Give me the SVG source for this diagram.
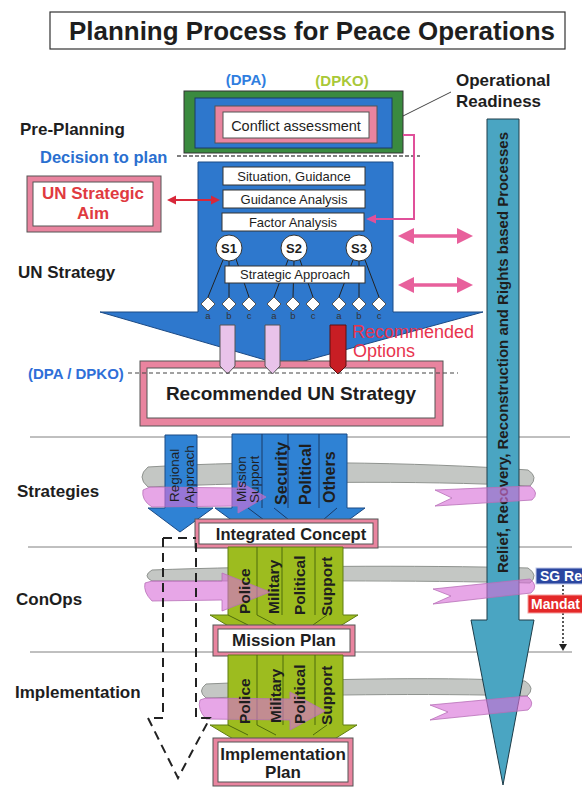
<svg xmlns="http://www.w3.org/2000/svg" width="582" height="787" viewBox="0 0 582 787">
<defs>
<style>
text{font-family:"Liberation Sans",Arial,Helvetica,sans-serif;fill:#1e1e1e}
.sec{font-size:17px;font-weight:bold}
.pinkO{fill:#e9849f;stroke:#555;stroke-width:1}
.whiteI{fill:#fff;stroke:#555;stroke-width:1}
.wbox{fill:#fff;stroke:#333;stroke-width:1}
.wt{font-size:13px;text-anchor:middle}
.gray{fill:#c4c7c4;stroke:#8f938f;stroke-width:1}
.pk{fill:#d870d8;fill-opacity:0.62;stroke:#b870b8;stroke-width:0.8}
.blueA{fill:#2f82d4;stroke:#1b4a85;stroke-width:1}
.greenA{fill:#9dbc1f;stroke:#5f7d12;stroke-width:1}
.div{stroke:#1b3a66;stroke-width:1;fill:none}
.gdiv{stroke:#4d6a0c;stroke-width:1;fill:none}
.sline{stroke:#808080;stroke-width:1}
.dash{stroke:#222;stroke-width:2;stroke-dasharray:9 6;fill:none}
.dia{fill:#fff;stroke:#555;stroke-width:1}
.abc{font-size:9.5px;text-anchor:middle;fill:#333}
.tie{stroke:#222;stroke-width:1}
.col{font-size:15.5px;font-weight:bold}
.colb{font-size:16px;font-weight:bold}
.cols{font-size:13.5px}
.boxt{font-size:17px;font-weight:bold;text-anchor:middle}
</style>
</defs>

<!-- section separator lines -->
<g id="separators">
<line class="sline" x1="30" y1="437" x2="570" y2="437"/>
<line class="sline" x1="28" y1="547" x2="572" y2="547"/>
<line class="sline" x1="30" y1="652" x2="572" y2="652"/>
</g>

<!-- title -->
<g id="title">
<rect x="50" y="12" width="515" height="37" fill="#fff" stroke="#333" stroke-width="1.2"/>
<text x="312" y="40" font-size="26" font-weight="bold" text-anchor="middle" textLength="486" lengthAdjust="spacingAndGlyphs">Planning Process for Peace Operations</text>
</g>

<!-- labels top -->
<g id="dept-labels">
<text x="246" y="85" font-size="15" font-weight="bold" text-anchor="middle" style="fill:#2f7ee0">(DPA)</text>
<text x="342" y="86" font-size="15" font-weight="bold" text-anchor="middle" style="fill:#a9c838">(DPKO)</text>
</g>

<g id="operational-readiness">
<text x="456" y="86" font-size="17" font-weight="bold">Operational</text>
<text x="456" y="107" font-size="17" font-weight="bold">Readiness</text>
<line x1="451" y1="92" x2="399" y2="118" stroke="#444" stroke-width="1"/>
</g>

<!-- conflict assessment -->
<g id="conflict-assessment">
<rect x="184" y="91" width="219" height="62" fill="#3a8a3f" stroke="#333" stroke-width="1"/>
<rect x="195" y="98" width="197" height="50" fill="#2e77cc" stroke="#1b3a66" stroke-width="1"/>
<rect class="pinkO" x="215" y="106" width="162" height="37"/>
<rect class="whiteI" x="223" y="112" width="146" height="26"/>
<text x="296" y="131" font-size="14.5" text-anchor="middle">Conflict assessment</text>
</g>

<g id="pre-planning-labels">
<text class="sec" x="20" y="135">Pre-Planning</text>
<text x="40" y="163" font-size="16.5" font-weight="bold" style="fill:#2a6fd0">Decision to plan</text>
<line x1="177" y1="156" x2="420" y2="156" stroke="#555" stroke-width="1.5" stroke-dasharray="4 2"/>
</g>

<!-- UN strategy blue block -->
<g id="un-strategy-block">
<path d="M198,162 H393 V312 H483 L286,366 L100,312 H198 Z" fill="#2e78cd" stroke="#1b4a85" stroke-width="1"/>
<rect class="wbox" x="223" y="167" width="142" height="18"/>
<text class="wt" x="294" y="181">Situation, Guidance</text>
<rect class="wbox" x="223" y="190" width="142" height="18"/>
<text class="wt" x="294" y="204">Guidance Analysis</text>
<rect class="wbox" x="222" y="213" width="142" height="18"/>
<text class="wt" x="293" y="227">Factor Analysis</text>
<g id="strategy-ties">
<line class="tie" x1="223" y1="260" x2="208" y2="297"/>
<line class="tie" x1="229" y1="261" x2="229" y2="297"/>
<line class="tie" x1="236" y1="259" x2="249" y2="297"/>
<line class="tie" x1="288" y1="260" x2="274" y2="297"/>
<line class="tie" x1="294" y1="261" x2="293" y2="297"/>
<line class="tie" x1="300" y1="260" x2="313" y2="297"/>
<line class="tie" x1="353" y1="260" x2="339" y2="297"/>
<line class="tie" x1="359" y1="261" x2="359" y2="297"/>
<line class="tie" x1="365" y1="260" x2="379" y2="297"/>
</g>
<rect class="wbox" x="225" y="266" width="140" height="17"/>
<text class="wt" x="295" y="279">Strategic Approach</text>
<g id="s1"><circle cx="229" cy="248" r="13" fill="#fff" stroke="#333"/><text x="229" y="253" font-size="13" font-weight="bold" text-anchor="middle">S1</text></g>
<g id="s2"><circle cx="294" cy="248" r="13" fill="#fff" stroke="#333"/><text x="294" y="253" font-size="13" font-weight="bold" text-anchor="middle">S2</text></g>
<g id="s3"><circle cx="359" cy="248" r="13" fill="#fff" stroke="#333"/><text x="359" y="253" font-size="13" font-weight="bold" text-anchor="middle">S3</text></g>
<g id="options">
<path class="dia" d="M208,297 L215,304 L208,311 L201,304 Z"/>
<path class="dia" d="M229,297 L236,304 L229,311 L222,304 Z"/>
<path class="dia" d="M249,297 L256,304 L249,311 L242,304 Z"/>
<path class="dia" d="M274,297 L281,304 L274,311 L267,304 Z"/>
<path class="dia" d="M293,297 L300,304 L293,311 L286,304 Z"/>
<path class="dia" d="M313,297 L320,304 L313,311 L306,304 Z"/>
<path class="dia" d="M339,297 L346,304 L339,311 L332,304 Z"/>
<path class="dia" d="M359,297 L366,304 L359,311 L352,304 Z"/>
<path class="dia" d="M379,297 L386,304 L379,311 L372,304 Z"/>
<text class="abc" x="208" y="319">a</text><text class="abc" x="229" y="319">b</text><text class="abc" x="249" y="319">c</text>
<text class="abc" x="274" y="319">a</text><text class="abc" x="293" y="319">b</text><text class="abc" x="313" y="319">c</text>
<text class="abc" x="339" y="319">a</text><text class="abc" x="359" y="319">b</text><text class="abc" x="379" y="319">c</text>
</g>
</g>

<g id="un-strategic-aim">
<rect class="pinkO" x="27" y="176" width="134" height="56"/>
<rect class="whiteI" x="33" y="182" width="120" height="44"/>
<text x="93" y="199" font-size="17" font-weight="bold" text-anchor="middle" style="fill:#e03a40">UN Strategic</text>
<text x="93" y="219" font-size="17" font-weight="bold" text-anchor="middle" style="fill:#e03a40">Aim</text>
</g>

<g id="section-labels">
<text class="sec" x="18" y="278">UN Strategy</text>
<text x="28" y="379" font-size="15" font-weight="bold" style="fill:#2f6fd8">(DPA / DPKO)</text>
<text class="sec" x="17" y="497">Strategies</text>
<text class="sec" x="16" y="605">ConOps</text>
<text class="sec" x="15" y="698">Implementation</text>
</g>

<!-- recommended UN strategy -->
<g id="recommended-un-strategy">
<rect class="pinkO" x="140" y="361" width="303" height="65"/>
<rect class="whiteI" x="147" y="368" width="288" height="50"/>
<text x="291" y="400" font-size="19" font-weight="bold" text-anchor="middle">Recommended UN Strategy</text>
</g>

<g id="option-bars">
<path d="M220,325 H235 V366 L227.5,374 L220,366 Z" fill="#e9c3ea" stroke="#555" stroke-width="1"/>
<path d="M265,325 H280 V366 L272.5,374 L265,366 Z" fill="#e9c3ea" stroke="#555" stroke-width="1"/>
<path d="M330,325 H346 V366 L338,374 L330,366 Z" fill="#c81e24" stroke="#5a1010" stroke-width="1"/>
<text x="352" y="338" font-size="18" style="fill:#e8344e">Recommended</text>
<text x="353" y="357" font-size="18" style="fill:#e8344e">Options</text>
</g>
<line x1="128" y1="373" x2="458" y2="373" stroke="#444" stroke-width="1.2" stroke-dasharray="4 3"/>

<!-- ribbons (back parts) -->
<g id="ribbons-back">
<path class="gray" d="M148,467 C260,460 420,462 528,470 Q539,477 530,486 C420,480 260,482 148,487 Q136,477 148,467 Z"/>
<path class="gray" d="M152,570 C260,566 420,565 528,568 Q539,575 530,583 C420,580 260,581 152,581 Q142,576 152,570 Z"/>
<path class="gray" d="M206,684 C300,680 430,676 525,681 Q536,688 527,696 C430,693 300,695 206,698 Q197,691 206,684 Z"/>
</g>

<!-- strategies arrows -->
<g id="regional-approach">
<path class="blueA" d="M165,435 H197 V508 H213 L180,532 L148,508 H165 Z"/>
</g>
<g id="strategy-arrows">
<path class="blueA" d="M232,434 H347 V508 H365 L290,563 L215,508 H232 Z"/>
<line class="div" x1="262" y1="434" x2="262" y2="508"/>
<line class="div" x1="288" y1="434" x2="288" y2="508"/>
<line class="div" x1="319" y1="434" x2="319" y2="508"/>
<line class="div" x1="248" y1="508" x2="264" y2="520"/>
<line class="div" x1="274" y1="508" x2="289" y2="520"/>
<line class="div" x1="337" y1="508" x2="323" y2="520"/>
</g>

<g id="integrated-concept">
<rect class="pinkO" x="195" y="519" width="183" height="29"/>
<rect class="whiteI" x="199" y="523" width="174" height="21"/>
<text x="291" y="540" font-size="16.5" font-weight="bold" text-anchor="middle">Integrated Concept</text>
</g>

<!-- conops arrows -->
<g id="conops-arrows">
<path class="greenA" d="M228,547 H343 V615 H358 L285,660 L210,615 H228 Z"/>
<line class="gdiv" x1="257" y1="547" x2="257" y2="615"/>
<line class="gdiv" x1="282" y1="547" x2="282" y2="615"/>
<line class="gdiv" x1="315" y1="547" x2="315" y2="615"/>
<line class="gdiv" x1="228" y1="615" x2="248" y2="625"/>
<line class="gdiv" x1="257" y1="615" x2="276" y2="625"/>
<line class="gdiv" x1="327" y1="615" x2="313" y2="625"/>
</g>
<g id="mission-plan">
<rect class="pinkO" x="213" y="625" width="142" height="31"/>
<rect class="whiteI" x="218" y="629" width="132" height="23"/>
<text class="boxt" x="284" y="646">Mission Plan</text>
</g>

<!-- implementation arrows -->
<g id="implementation-arrows">
<path class="greenA" d="M228,655 H343 V725 H357 L285,770 L210,725 H228 Z"/>
<line class="gdiv" x1="257" y1="655" x2="257" y2="725"/>
<line class="gdiv" x1="283" y1="655" x2="283" y2="725"/>
<line class="gdiv" x1="315" y1="655" x2="315" y2="725"/>
<line class="gdiv" x1="228" y1="725" x2="248" y2="735"/>
<line class="gdiv" x1="257" y1="725" x2="276" y2="735"/>
<line class="gdiv" x1="327" y1="725" x2="313" y2="735"/>
</g>
<g id="implementation-plan">
<rect class="pinkO" x="213" y="738" width="140" height="48"/>
<rect class="whiteI" x="218" y="742" width="130" height="40"/>
<text class="boxt" x="283" y="760">Implementation</text>
<text class="boxt" x="283" y="778">Plan</text>
</g>

<!-- relief arrow -->
<g id="relief-processes">
<path d="M487,119 H519 V620 H534 L503,785 L471,620 H487 Z" fill="#4aa5c2" stroke="#1e3c48" stroke-width="1"/>
<text transform="translate(503,573) rotate(-90)" dy="0.35em" font-size="15" font-weight="bold" textLength="441" lengthAdjust="spacingAndGlyphs">Relief, Recovery, Reconstruction and Rights based Processes</text>
</g>

<!-- ribbons (front parts) -->
<g id="ribbons-front">
<path class="pk" d="M150,487 L238,488 L238,481 L266,497 L238,513 L238,506 L152,507 Q141,500 143,490 Z"/>
<path class="pk" d="M435,490 L530,486 Q540,493 532,500 L435,506 L452,498 Z"/>
<path class="pk" d="M152,581 L222,581 L222,573 L270,592 L222,611 L222,600 L152,601 Q143,592 145,583 Z"/>
<path class="pk" d="M433,589 L530,579 Q539,586 531,593 L433,604 L451,596 Z"/>
<path class="pk" d="M206,698 L290,699 L290,692 L325,711 L290,730 L290,720 L206,719 Q197,709 200,700 Z"/>
<path class="pk" d="M430,705 L527,696 Q536,703 528,710 L430,720 L448,712 Z"/>
</g>

<!-- column texts -->
<g id="strategy-texts">
<text class="cols" transform="translate(174,502) rotate(-90)" dy="0.35em">Regional</text>
<text class="cols" transform="translate(189,503) rotate(-90)" dy="0.35em">Approach</text>
<text class="cols" transform="translate(241,502) rotate(-90)" dy="0.35em">Mission</text>
<text class="cols" transform="translate(254,503) rotate(-90)" dy="0.35em">Support</text>
<text class="colb" transform="translate(281,505) rotate(-90)" dy="0.35em">Security</text>
<text class="colb" transform="translate(305,505) rotate(-90)" dy="0.35em">Political</text>
<text class="colb" transform="translate(329,503) rotate(-90)" dy="0.35em">Others</text>
</g>
<g id="conops-texts">
<text class="col" transform="translate(245,614) rotate(-90)" dy="0.35em">Police</text>
<text class="col" transform="translate(274,614) rotate(-90)" dy="0.35em">Military</text>
<text class="col" transform="translate(300,615) rotate(-90)" dy="0.35em">Political</text>
<text class="col" transform="translate(327,616) rotate(-90)" dy="0.35em">Support</text>
</g>
<g id="implementation-texts">
<text class="col" transform="translate(245,724) rotate(-90)" dy="0.35em">Police</text>
<text class="col" transform="translate(276,723) rotate(-90)" dy="0.35em">Military</text>
<text class="col" transform="translate(300,724) rotate(-90)" dy="0.35em">Political</text>
<text class="col" transform="translate(327,725) rotate(-90)" dy="0.35em">Support</text>
</g>

<!-- connectors -->
<g id="connectors">
<path d="M403,135 H414 V219 H375" fill="none" stroke="#e0509a" stroke-width="2"/>
<path d="M366,219 L376,214.5 L376,223.5 Z" fill="#e0509a"/>
<path d="M167,200 L176,195.5 L176,199 L211,199 L211,195.5 L220,200 L211,204.5 L211,201 L176,201 L176,204.5 Z" fill="#d8283a"/>
<path d="M398,236 L414,228 L414,234.2 L457,234.2 L457,228 L473,236 L457,244 L457,237.8 L414,237.8 L414,244 Z" fill="#e8609c"/>
<path d="M398,285 L414,277 L414,283.2 L457,283.2 L457,277 L473,285 L457,293 L457,286.8 L414,286.8 L414,293 Z" fill="#e8609c"/>
<g id="dashed-arrow">
<path class="dash" d="M163,538 H196"/>
<path class="dash" d="M163,538 V718 H148 L178,778 L210,718 H196 V538"/>
</g>
</g>

<!-- SG report / mandate -->
<g id="sg-report">
<rect x="536" y="568" width="60" height="16" fill="#2b47a0" stroke="#c0c8e8" stroke-width="1"/>
<text x="540" y="581" font-size="14" font-weight="bold" style="fill:#fff">SG Re</text>
</g>
<g id="mandate">
<line x1="563" y1="585" x2="563" y2="645" stroke="#222" stroke-width="1.5" stroke-dasharray="2 2"/>
<path d="M559,644 L567,644 L563,651 Z" fill="#222"/>
<rect x="528" y="595" width="60" height="18" fill="#e42828" stroke="#f4a0a0" stroke-width="1"/>
<text x="531" y="609" font-size="14" font-weight="bold" style="fill:#fff">Mandat</text>
</g>
</svg>
